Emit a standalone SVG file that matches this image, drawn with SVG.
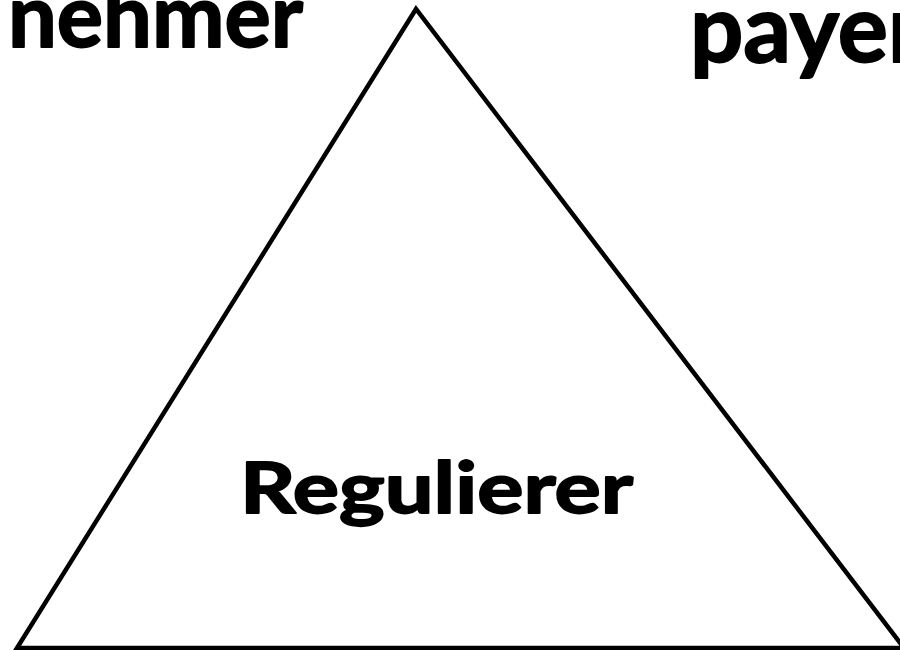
<svg xmlns="http://www.w3.org/2000/svg" width="900" height="650" viewBox="0 0 900 650">
<style>
.lbl{font-family:Lato,"Open Sans","Liberation Sans",sans-serif;font-weight:bold;fill:#000;stroke:#000;stroke-width:1.8;stroke-linejoin:round}
.tri{fill:none;stroke:#000;stroke-width:4.5;stroke-linejoin:miter}
</style>
<rect width="900" height="650" fill="#fff"/>
<g id="triangle"><polygon class="tri" points="416,9 17,648 904,648"/></g>
<g id="connectors"></g>
<g id="node-nehmer"><text class="lbl" x="8" y="47" font-size="88" textLength="295" lengthAdjust="spacingAndGlyphs">nehmer</text></g>
<g id="node-payer"><text class="lbl" x="690" y="62" font-size="94" textLength="233" lengthAdjust="spacingAndGlyphs">payer</text></g>
<g id="node-regulierer"><text class="lbl" x="240" y="513" font-size="71" textLength="393" lengthAdjust="spacingAndGlyphs">Regulierer</text></g>
</svg>
